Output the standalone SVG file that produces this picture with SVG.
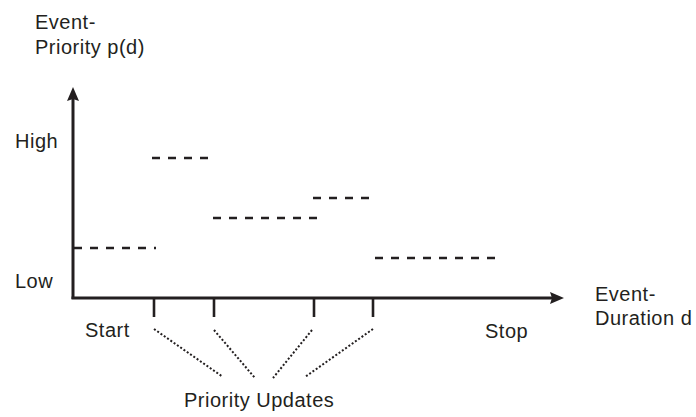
<svg xmlns="http://www.w3.org/2000/svg" width="696" height="417" viewBox="0 0 696 417">
  <style>
    .lbl { font-family: "Liberation Sans", Arial, Helvetica, sans-serif; font-size: 20px; letter-spacing: 0.5px; fill: #231f20; }
    .axis { stroke: #231f20; stroke-width: 3; fill: none; }
    .tick { stroke: #231f20; stroke-width: 2.6; fill: none; }
    .level { stroke: #231f20; stroke-width: 2.6; stroke-dasharray: 8 8; fill: none; }
    .update { stroke: #231f20; stroke-width: 2; stroke-dasharray: 2 2; fill: none; }
  </style>
  <defs>
    <marker id="arrow" viewBox="0 0 14 12" refX="2" refY="6" markerWidth="14" markerHeight="12" markerUnits="userSpaceOnUse" orient="auto">
      <path d="M0,0 L14,6 L0,12 L2,6 Z" fill="#231f20"/>
    </marker>
  </defs>

  <!-- axes -->
  <g id="axes">
    <path class="axis" d="M73,299 L73,99" marker-end="url(#arrow)"/>
    <path class="axis" d="M71.5,298 L552,298" marker-end="url(#arrow)"/>
  </g>

  <!-- axis labels -->
  <g id="y-label">
    <text class="lbl" x="35" y="29">Event-</text>
    <text class="lbl" x="35" y="54">Priority p(d)</text>
  </g>
  <g id="x-label">
    <text class="lbl" x="595" y="301">Event-</text>
    <text class="lbl" x="595" y="325">Duration d</text>
  </g>
  <text id="high" class="lbl" x="15" y="148">High</text>
  <text id="low" class="lbl" x="15" y="288">Low</text>
  <text id="start" class="lbl" x="85" y="337">Start</text>
  <text id="stop" class="lbl" x="485" y="338">Stop</text>

  <!-- priority levels per interval -->
  <g id="levels">
    <path class="level" d="M74,248 L156,248"/>
    <path class="level" d="M152,158 L208,158"/>
    <path class="level" d="M213,218 L317,218"/>
    <path class="level" d="M313,198 L369,198"/>
    <path class="level" d="M375,258 L495,258"/>
  </g>

  <!-- update instants on the time axis -->
  <g id="ticks">
    <path class="tick" d="M154,298 L154,317"/>
    <path class="tick" d="M214,298 L214,317"/>
    <path class="tick" d="M314,298 L314,317"/>
    <path class="tick" d="M373,298 L373,317"/>
  </g>

  <!-- connectors to the "Priority Updates" label -->
  <g id="connectors">
    <path class="update" d="M154,329 L223,377"/>
    <path class="update" d="M214,330 L255,378"/>
    <path class="update" d="M312,330 L273,378"/>
    <path class="update" d="M373,329 L305,377"/>
  </g>

  <text id="updates" class="lbl" x="184" y="407">Priority Updates</text>
</svg>
